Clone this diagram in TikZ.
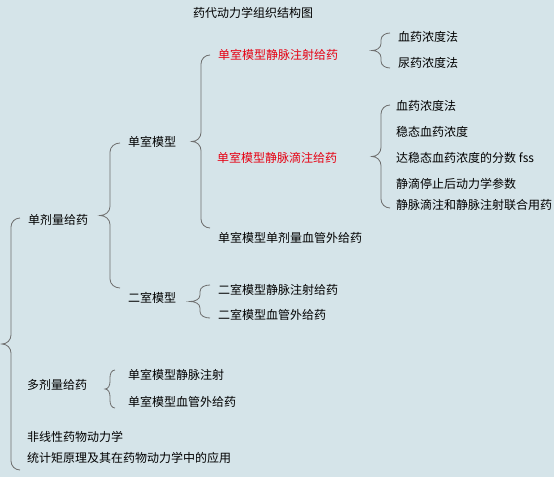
\documentclass[tikz,border=0pt]{standalone}
\usepackage{fontspec}
\newfontfamily\cjk{Noto Sans CJK SC}
\usetikzlibrary{calc}

\definecolor{bgblue}{HTML}{D5E4E9}
\definecolor{hotred}{HTML}{E60012}
\definecolor{bracegray}{HTML}{6E6E6E}

\tikzset{
  item/.style={anchor=west, inner sep=0pt, font=\cjk\fontsize{12}{14}\selectfont},
  hot/.style={item, text=hotred},
  bracestyle/.style={draw=bracegray, line width=0.8pt}
}

% curly brace: [width]{top end}{bottom end}, tip points left
\newcommand{\curly}[3][18]{%
  \draw[bracestyle] let \p1=#2, \p2=#3,
    \n1={#1*0.5pt}, \n2={min(9pt,0.2*(\y1-\y2))}, \n3={0.5*(\y1+\y2)} in
    (\p1) to[out=180,in=90] (\x1-\n1,\y1-\n2) -- (\x1-\n1,\n3+\n2+0pt)
    to[out=-90,in=0] (\x1-2*\n1,\n3+0pt) to[out=0,in=90] (\x1-\n1,\n3-\n2+0pt)
    -- (\x1-\n1,\y2+\n2) to[out=-90,in=180] (\p2);}

\begin{document}
\begin{tikzpicture}[x=1pt, y=-1pt]
    \fill[bgblue] (0,0) rectangle (554,477);
    \useasboundingbox (0,0) rectangle (554,477);

    % Title
    \node[item] (title) at (193,13) {药代动力学组织结构图};

    % Single dose branch
    \node[item] (single) at (28,220) {单剂量给药};
    \node[item] (one) at (128,142) {单室模型};
    \node[hot] (oneiv) at (218,55) {单室模型静脉注射给药};
    \node[item] (ivp) at (398,37) {血药浓度法};
    \node[item] (ivu) at (398,63) {尿药浓度法};
    \node[hot] (drip) at (217,158) {单室模型静脉滴注给药};
    \node[item] (dripa) at (396,106) {血药浓度法};
    \node[item] (dripb) at (396,132) {稳态血药浓度};
    \node[item] (dripc) at (396,158) {达稳态血药浓度的分数 fss};
    \node[item] (dripd) at (396,184) {静滴停止后动力学参数};
    \node[item] (dripe) at (396,205) {静脉滴注和静脉注射联合用药};
    \node[item] (oneev) at (218,238) {单室模型单剂量血管外给药};
    \node[item] (two) at (128,298) {二室模型};
    \node[item] (twoiv) at (218,290) {二室模型静脉注射给药};
    \node[item] (twoev) at (218,315) {二室模型血管外给药};

    % Multiple dose branch
    \node[item] (multi) at (27,385) {多剂量给药};
    \node[item] (multiv) at (128,375) {单室模型静脉注射};
    \node[item] (multev) at (128,402) {单室模型血管外给药};

    % Other topics
    \node[item] (nonlin) at (27,437) {非线性药物动力学};
    \node[item] (moment) at (27,458) {统计矩原理及其在药物动力学中的应用};

    % Brace ends
    \coordinate (mainT) at (20,218);   \coordinate (mainB) at (20,470);
    \coordinate (singleT) at (120,143); \coordinate (singleB) at (120,288);
    \coordinate (oneT) at (210,55);    \coordinate (oneB) at (210,228);
    \coordinate (oneivT) at (390,33);  \coordinate (oneivB) at (390,68);
    \coordinate (dripT) at (390,105);  \coordinate (dripB) at (390,208);
    \coordinate (twoT) at (210,285);   \coordinate (twoB) at (210,318);
    \coordinate (multiT) at (115,370); \coordinate (multiB) at (115,408);

    % Braces
    \curly{(mainT)}{(mainB)}
    \curly[20]{(singleT)}{(singleB)}
    \curly{(oneT)}{(oneB)}
    \curly{(oneivT)}{(oneivB)}
    \curly{(dripT)}{(dripB)}
    \curly[20]{(twoT)}{(twoB)}
    \curly[10]{(multiT)}{(multiB)}
\end{tikzpicture}
\end{document}
